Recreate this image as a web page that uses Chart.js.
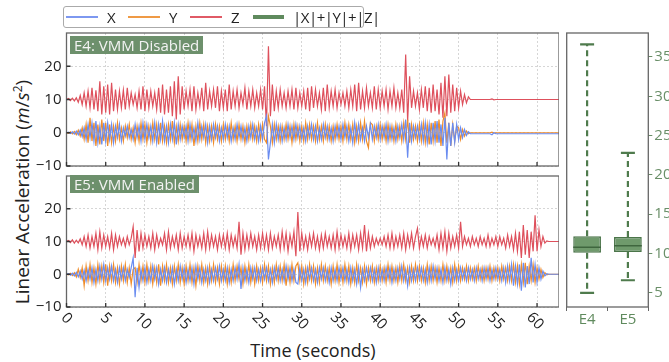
<!DOCTYPE html>
<html>
<head>
<meta charset="utf-8">
<script src="https://cdn.jsdelivr.net/npm/chart.js@4.4.0/dist/chart.umd.min.js"></script>
<style>
  body { margin: 0; width: 669px; height: 362px; overflow: hidden; background: #fff; position: relative; font-family: "Open Sans", sans-serif; color: #222; }
  .wrap { position: absolute; }
  #legend { position: absolute; left: 63px; top: 6px; width: 299px; height: 20px; border: 1px solid #aaa; border-radius: 3px; z-index: 5; background: #fff; font-size: 15px; }
  #legend span { position: absolute; }
  #legend .ln { height: 2px; top: 9px; }
  #legend .tx { top: -1px; line-height: 22px; }
  .tag { position: absolute; background: #6d906c; color: #f4f4f4; font-size: 15px; line-height: 18px; padding: 0 4px; z-index: 5; }
  #ytitle { position: absolute; left: 22px; top: 192px; transform: translate(-50%, -50%) rotate(-90deg); white-space: nowrap; font-size: 19px; }
  #xtitle { position: absolute; left: 313px; top: 350px; transform: translate(-50%, -50%); white-space: nowrap; font-size: 18px; }
</style>
</head>
<body>
<div id="legend">
  <span class="ln" style="left:2px;width:32px;background:#7d98f0"></span><span class="tx" style="left:43px">X</span>
  <span class="ln" style="left:64px;width:32px;background:#ef9a45"></span><span class="tx" style="left:105px">Y</span>
  <span class="ln" style="left:126px;width:32px;background:#e05a66"></span><span class="tx" style="left:167px">Z</span>
  <span class="ln" style="left:189px;width:31px;height:4px;top:8px;background:#5f8a5d"></span><span class="tx" style="left:229px;letter-spacing:-0.5px">|X|+|Y|+|Z|</span>
</div>
<div class="tag" style="left:70px;top:36px">E4: VMM Disabled</div>
<div class="tag" style="left:70px;top:175px">E5: VMM Enabled</div>
<div id="ytitle">Linear Acceleration (<i>m</i>/<i>s</i><sup style="font-size:12px">2</sup>)</div>
<div id="xtitle">Time (seconds)</div>

<div class="wrap" style="left:0;top:0;width:559px;height:180px"><canvas id="top"></canvas></div>
<div class="wrap" style="left:0;top:162px;width:559px;height:200px"><canvas id="bottom"></canvas></div>
<div class="wrap" style="left:560px;top:0;width:109px;height:362px"><canvas id="box"></canvas></div>

<script>
// samples every 0.25 s, 0 .. 63 s
const dt = 0.25;

// E4: VMM Disabled
const e4X = [
  0, 0.2, -0.2, 0.3, -0.4, 0.5, -0.6, 0.8, -1.2, 1.5, -2, 2.5, -1.5, 3, -2.5, 3.5, -3, 2, -3.5, 3,
  -2.5, 3, -2, 2.5, -3, 2, -1.5, 2.5, -2.5, 1.5, -1, 2, -1.5, 1, -2, 2.5, -1.5, 2, -2.5, 3,
  -2, 2.5, -1.5, 2, -2.5, 3, -3, 2.5, -2, 3.5, -2.5, 2, -3, 2.5, -2, 3, -3.5, 2.5, -2, 2,
  -1.5, 2, -2.5, 2.5, -2, 1.5, -2.5, 3, -2, 2, -1.5, 2.5, -3, 2, -2, 2.5, -1.5, 2, -2.5, 1.5,
  -2, 2.5, -1.5, 2, -2.5, 1.5, -2, 2.5, -1.5, 2, -2, 1.5, -2.5, 2, -1.5, 2.5, -2, 1.5, -2.5, 2,
  -2, 3, 5, -8, -3, 2.5, -3, 2.5, -2, 2, -2.5, 1.5, -2, 2.5, -1.5, 2, -2, 2.5, -1.5, 2,
  -2, 1.5, -2.5, 2, -1.5, 2.5, -2, 2, -2.5, 1.5, -2, 2.5, -1.5, 2, -2, 1.5, -2.5, 2, -1.5, 2,
  -2, 2.5, -1.5, 2, -2.5, 1.5, -3, 3, -2, 2.5, -2, 1.5, -2.5, 2, -1.5, 2.5, -2, 2, -1.5, 2.5,
  -2, 2, -1.5, 2.5, -2.5, 2, -2, 1.5, -2.5, 2, -1.5, 2.5, -2, 4, -7.5, 3, -2.5, 2, -1.5, 2,
  -2, 2.5, -2.5, 3, -3, 2.5, -3.5, 3, -2.5, 3.5, -3, 2.5, -4, 4.5, -8, 3, -4, 3, -3, 2.5,
  -2, 1.5, -1.5, 1, -0.8, 0.3, -0.3, -0.3, -0.3, -0.3, -0.3, -0.3, -0.3, -0.3, -0.3, -0.3, -0.3, -0.6, 0, -0.3,
  -0.3, -0.3, -0.3, -0.3, -0.3, -0.3, -0.3, -0.3, -0.3, -0.3, -0.3, -0.3, -0.3, -0.3, -0.3, -0.3, -0.3, -0.3, -0.3, -0.3,
  -0.3, -0.3, -0.3, -0.3, -0.3, -0.3, -0.3, -0.3, -0.3, -0.3, -0.3, -0.3, -0.3
];
const e4Y = [
  0, -0.2, 0.3, -0.3, 0.4, -0.6, 0.8, -1, 1.5, -2, 2.5, -3, 4.5, -2.5, 3, -4, 2.5, -3.5, 4, -2.5,
  3, -4, 2.5, -3, 2, -2.5, 3, -2, 1.5, -2.5, 2, -1.5, 2.5, -2, 1.5, -3, 2, -2.5, 3, -2,
  2.5, -3, 2, -2.5, 3, -2, 2.5, -3.5, 3, -2.5, 2, -3, 2.5, -2, 3.5, -3, 2, -2.5, 2.5, -2,
  2, -2.5, 3, -2, 2.5, -4, 2, -2.5, 3, -2, 2.5, -3, 2, -2.5, 2, -3, 2.5, -2, 2, -2.5,
  2.5, -2, 2, -2.5, 3, -2, 2, -2.5, 2.5, -2, 2, -3, 2, -2, 2.5, -2, 2, -2.5, 2.5, -2,
  2.5, -2, -3, 5, 2, -3, 2.5, -2, 2, -2.5, 2, -2, 2.5, -2, 2, -3, 2.5, -2, 2, -2.5,
  2, -2.5, 3, -2, 2.5, -2, 2, -2.5, 3, -2, 2, -2.5, 2.5, -2, 2, -2.5, 2, -2, 2.5, -2,
  2, -2.5, 3, -2, 2.5, -2, 2.5, -3, 2, -2.5, 3, -2, 3.5, -2.5, -4.5, 3, 2.5, -2.5, 2, -2,
  2.5, -2, 2, -2.5, 2.5, -2, 2, -2.5, 2.5, -2, 2, -2.5, 3, -2, 4, -3, 2.5, -2, 2, -2.5,
  2.5, -2.5, 3, -3, 2.5, -3.5, 3, -2.5, 3.5, -3, 4, -4, 3.5, 6, -3, 3, -4, 2.5, -2.5, 2,
  1.5, -2, 1, -1, 0.5, -0.3, 0, 0, 0, 0, 0, 0, 0, 0, 0, 0, 0, 0.2, -0.1, 0,
  0, 0, 0, 0, 0, 0, 0, 0, 0, 0, 0, 0, 0, 0, 0, 0, 0, 0, 0, 0,
  0, 0, 0, 0, 0, 0, 0, 0, 0, 0, 0, 0, 0
];
const e4Z = [
  10, 10.3, 9.7, 10.4, 9.6, 10.5, 9.2, 11.2, 8.5, 12, 8, 12.5, 7.5, 13.5, 7, 12.8, 6.5, 15.5, 5.5, 14,
  6, 14.5, 5.5, 15, 6.5, 13, 7, 12.5, 7.5, 12.8, 7, 13.5, 8, 12, 8.5, 11.5, 7.5, 12.5, 7, 14,
  6.5, 13, 7.5, 12.5, 8, 12, 7, 13.5, 6, 14.5, 5.5, 13, 6, 14, 5, 15.5, 4, 17, 5.5, 14,
  7, 12.5, 8, 13, 6.5, 14, 7, 12, 8, 13.5, 6.5, 15, 7, 12.5, 8, 13, 7.5, 14, 6.5, 12.5,
  7.5, 13, 6.5, 14.5, 7, 12.5, 8, 13, 7.5, 12, 8.5, 13.5, 7, 12.5, 8, 13, 7.5, 12, 8, 13,
  7, 14, 2, 26, 5, 14.5, 6.5, 12.5, 7.5, 13, 8, 12, 7.5, 12.5, 8, 13, 7, 13.5, 7.5, 12,
  8, 12.5, 7, 13.5, 6.5, 14, 7.5, 13, 8, 12, 7, 13.5, 6.5, 14.5, 7.5, 12.5, 8, 13, 7.5, 12,
  8.5, 12, 8, 12.5, 7.5, 13, 8, 14.5, 6.5, 15, 7, 12.5, 7.5, 13.5, 8, 12, 7.5, 14, 7, 13,
  7.5, 12.5, 8, 13, 7, 12.5, 8, 13.5, 7.5, 12, 7.5, 13, 6, 23.5, 3.5, 17, 7.5, 12.5, 8, 12,
  7, 13, 7.5, 14, 6.5, 13.5, 6, 14.5, 6.5, 13, 5.5, 15, 4.5, 17, 5, 17.5, 6, 14.5, 6.5, 13.5,
  7.5, 12.5, 8.5, 11.5, 9, 10.8, 10, 10, 10, 10, 10, 10, 10, 10, 10, 10, 10, 10.2, 9.9, 10,
  10, 10, 10, 10, 10, 10, 10, 10, 10, 10, 10, 10, 10, 10, 10, 10, 10, 10, 10, 10,
  10, 10, 10, 10, 10, 10, 10, 10, 10, 10, 10, 10, 10
];

// E5: VMM Enabled
const e5X = [
  0, 0.2, -0.3, 0.3, -0.5, 0.6, -0.8, 1, -1.5, 1.2, -2, 1.5, -1.5, 2, -2.5, 1.5, -2, 2.5, -1.5, 3,
  -2, 2, -1.5, 2.5, -2, 1.5, -2.5, 2, -1.5, 2, -2, 1.5, -1, 2, 5, -7, 2, -4, 1.5, -2,
  2, -2.5, 1.5, -2, 2.5, -1.5, 2, -3, 1.5, -2, 2, -2.5, 1.5, -2, 2, -3, 1.5, -2, 2.5, -1.5,
  2, -2.5, 1.5, -2, 2, -3, 2.5, -1.5, 2, -2.5, 1.5, -2, 2, -2.5, 1.5, -2, 2, -1.5, 2.5, -2,
  1.5, -2, 2, -2.5, 1.5, -2, 2, -1.5, 3, -4.5, 2, -2, 1.5, -2.5, 2, -1.5, 2, -2, 1.5, -2,
  2, -1.5, 2, -2, 1.5, -2.5, 2, -1.5, 2, -2, 1.5, -2, 2.5, -1.5, 2, -2, 1.5, -2.5, -3, 2,
  -2, 1.5, -2.5, 2, -1.5, 2, -2, 1.5, -2.5, 2, -1.5, 2, -2, 1.5, -2.5, 2, -2, 1.5, -2, 2,
  -1.5, 2, -2, 1.5, -2.5, 2, -2, 1.5, -3, 2, -4, 1.5, -2, 2, -1.5, 2, -2, 1.5, -2.5, 2,
  -2, 1.5, -2, 2, -1.5, 2, -2.5, 1.5, -2, 2, -1.5, 2.5, -2, 1.5, -3.5, 2, -2, 1.5, -2, 2,
  -1.5, 2, -2, 1.5, -2.5, 2, -2, 2.5, -1.5, 2, -2, 1.5, -2.5, 2, -2, 1.5, -3, 2, -2, 1.5,
  -2, 2, -1.5, 1.5, -2, 2, -1.5, 1.5, -2, 2, -1.5, 1.5, -2, 2, -1.5, 2, -2, 1.5, -1.5, 2,
  -1.5, 1.5, -2, 2, -2.5, 2.5, -2, 3, -3.5, 2.5, -3, 3, -5, 3.5, -4, 2.5, -3, 5, -2.5, 3,
  -2.5, 2, -1.5, 1, -0.5, 0.2, 0, 0, 0, 0, 0, 0, 0
];
const e5Y = [
  0, -0.2, 0.3, -0.4, 0.5, -0.8, 1.5, -1, 2, -3.5, 2.5, -2, 3, -2.5, 2, -3, 3, -2, 2.5, -2.5,
  3, -3.5, 2.5, -2, 3, -2.5, 2, -3, 2.5, -2, 3, -2.5, 2, -3, 1.5, 2, -2.5, 3, -2, 2.5,
  -2.5, 3, -2, 2.5, -3, 2, -2.5, 3, -3.5, 2.5, -2, 3, -2.5, 2, -3, 2.5, -2, 3, -2.5, 2,
  -3, 2.5, -2, 3, -2.5, 2, -3.5, 2.5, -2, 3, -2.5, 2, -3, 2.5, -2, 3, -2.5, 2, -3, 2.5,
  -2, 2.5, -3, 2, -2.5, 3, -2, 2.5, -1.5, 2, -3, 2.5, -2, 3, -2.5, 2, -3, 2.5, -2, 2,
  -2.5, 3, -2, 2.5, -3, 2, -2.5, 3, -2, 2.5, -2, 3, -3.5, 2, -2.5, 3, -2, 2.5, 3.5, -2,
  2.5, -3, 2, -2.5, 3, -2, 2.5, -3, 2, -2.5, 3, -2, 2.5, -2, 2, -3, 2.5, -2, 3, -2.5,
  2, -2.5, 3, -2, 2.5, -3, 2, -2.5, 3, -2, 2, -2.5, 2.5, -3, 2, -2, 2.5, -2.5, 2, -2,
  2.5, -2, 2, -2.5, 3, -2, 2.5, -2, 2, -2.5, 2.5, -2, 3, -2, 2, -2.5, 2.5, -2, 3, -2,
  2.5, -2, 2, -2.5, 3, -2, 2.5, -2, 2, -2.5, 2, -2, 3, -2, 2.5, -2, 2, -2.5, 3, -2,
  2.5, -2, 2, -1.5, 2.5, -2, 2, -1.5, 2, -2, 2.5, -1.5, 2, -2, 2, -1.5, 2.5, -2, 2, -1.5,
  2, -2, 2.5, -1.5, 2, -2, 2.5, -2, 3, -2.5, 2.5, -3, 3, -2.5, 3.5, -3, 2.5, -2, 3, -2.5,
  2, -1.5, 1.5, -1, 0.5, -0.2, 0, 0, 0, 0, 0, 0, 0
];
const e5Z = [
  10, 10.3, 9.7, 10.5, 9.5, 10.4, 9.6, 10.8, 9, 11.5, 8.5, 12, 8, 11.5, 8.5, 12.5, 7.5, 13, 8, 12,
  8.5, 11.5, 8, 12.5, 7.5, 12, 8.5, 11.5, 9, 11, 8.5, 11.5, 9, 11, 14.5, 5, 13.5, 7, 12.5, 8,
  12, 8.5, 11.5, 8, 12.5, 7.5, 12, 8.5, 11, 9, 12.5, 7.5, 13, 8, 11.5, 8.5, 12, 7.5, 12.5, 8,
  11.5, 8.5, 12, 8, 12.5, 7, 12, 8.5, 11.5, 8, 12.5, 7.5, 13, 8, 12, 8.5, 11.5, 7.5, 12, 8.5,
  12, 8, 12.5, 7.5, 12, 8.5, 11.5, 8, 16, 6, 12.5, 7.5, 12, 8, 12.5, 8.5, 11.5, 7.5, 12, 8,
  12.5, 8, 12, 7.5, 12.5, 8, 11.5, 8.5, 12, 7.5, 13, 8, 12.5, 7, 12, 8.5, 13, 5.5, 19, 7,
  12.5, 8, 11.5, 7.5, 12, 8.5, 12.5, 8, 11.5, 7.5, 12, 8, 12.5, 8.5, 11.5, 8, 12, 7.5, 13, 8,
  12, 8.5, 11.5, 8, 12.5, 7.5, 12, 8.5, 12, 7.5, 12.5, 8, 15, 7, 12.5, 8, 11.5, 8.5, 11, 9,
  11, 9, 11.5, 8.5, 12, 8, 12.5, 8, 11.5, 8.5, 12, 8, 12.5, 7.5, 12, 8.5, 12.5, 8, 11.5, 14,
  8, 11.5, 8.5, 12, 8, 11.5, 9, 11, 8.5, 12, 7.5, 12.5, 8, 13, 7, 12.5, 8, 11.5, 8.5, 12,
  8, 16, 8.5, 11.5, 9, 11, 8.5, 11.5, 9, 11, 8.5, 11.5, 9, 11, 8.5, 12, 8.5, 11, 9, 11.5,
  8.5, 11.5, 9, 11, 8, 12, 8.5, 11.5, 7.5, 12.5, 7, 13, 5, 15, 6, 13.5, 5, 13, 7, 18,
  7, 13.5, 8.5, 11.5, 9.5, 10.2, 10, 10, 10, 10, 10, 10, 10
];

const xTicks = [0, 5, 10, 15, 20, 25, 30, 35, 40, 45, 50, 55, 60];
const yTicks = [-10, 0, 10, 20];

// summary of |X|+|Y|+|Z| per experiment
const boxCats = ["E4", "E5"];
const boxMin = [5.0, 6.6];
const boxQ1 = [10.1, 10.2];
const boxMed = [10.8, 11.0];
const boxQ3 = [12.2, 12.1];
const boxMax = [36.6, 22.8];
const boxTicks = [5, 10, 15, 20, 25, 30, 35];

const FONT = "'Open Sans', sans-serif";
Chart.defaults.font.family = FONT;
Chart.defaults.font.size = 15;

const time = e4Z.map((_, i) => i * dt);
const pts = (arr) => arr.map((v, i) => ({ x: time[i], y: v }));
const useTicks = (vals) => (s) => { s.ticks = vals.map((v) => ({ value: v })); };

// frame round the plot plus small inward tick marks
function framePlugin(inner) {
  return {
    id: "frame",
    afterDraw(chart) {
      const { ctx, chartArea: a, scales } = chart;
      ctx.save();
      ctx.strokeStyle = "#666";
      ctx.lineWidth = 1.3;
      ctx.strokeRect(a.left, a.top, a.right - a.left, a.bottom - a.top);
      if (inner) {
        ctx.strokeStyle = "#333";
        ctx.beginPath();
        xTicks.forEach((v) => {
          const px = scales.x.getPixelForValue(v);
          ctx.moveTo(px, a.bottom);
          ctx.lineTo(px, a.bottom - 4);
        });
        yTicks.forEach((v) => {
          const py = scales.y.getPixelForValue(v);
          ctx.moveTo(a.left, py);
          ctx.lineTo(a.left + 4, py);
        });
        ctx.stroke();
      }
      ctx.restore();
    },
  };
}

// x labels turned 45 degrees clockwise
const slantLabels = {
  id: "slant",
  afterDraw(chart) {
    const { ctx, chartArea: a, scales } = chart;
    ctx.save();
    ctx.font = "15px " + FONT;
    ctx.fillStyle = "#222";
    ctx.textAlign = "center";
    ctx.textBaseline = "middle";
    xTicks.forEach((v) => {
      const t = String(v);
      const w = ctx.measureText(t).width;
      const px = scales.x.getPixelForValue(v);
      ctx.save();
      ctx.translate(px - (w - 9) * 0.25, a.bottom + 9 + w * 0.3);
      ctx.rotate(Math.PI / 4);
      ctx.fillText(t, 0, 0);
      ctx.restore();
    });
    ctx.restore();
  },
};

function panel(id, xs, ys, zs, pad, xHeight, extra) {
  const grid = { color: "#d6d6d6", drawTicks: false };
  return new Chart(document.getElementById(id), {
    type: "line",
    data: {
      datasets: [
        { label: "X", data: pts(xs), borderColor: "#6a8cf0", order: 0 },
        { label: "Y", data: pts(ys), borderColor: "#ef8c2a", order: 1 },
        { label: "Z", data: pts(zs), borderColor: "#de505c", order: 2 },
      ],
    },
    options: {
      animation: false,
      responsive: true,
      maintainAspectRatio: false,
      layout: { padding: pad },
      elements: { point: { radius: 0 }, line: { borderWidth: 1.2, tension: 0 } },
      plugins: { legend: { display: false }, tooltip: { enabled: false } },
      scales: {
        x: {
          type: "linear",
          min: 0,
          max: 62.8,
          afterBuildTicks: useTicks(xTicks),
          afterFit: (s) => { s.height = xHeight; },
          ticks: { display: false },
          grid: grid,
          border: { display: false, dash: [2, 2] },
        },
        y: {
          min: -10,
          max: 30,
          afterBuildTicks: useTicks(yTicks),
          afterFit: (s) => { s.width = 66.5; },
          ticks: { color: "#222", padding: 5, callback: (v) => String(v).replace("-", "\u2212") },
          grid: grid,
          border: { display: false, dash: [2, 2] },
        },
      },
    },
    plugins: [framePlugin(true)].concat(extra),
  });
}

panel("top", e4X, e4Y, e4Z, { top: 33, bottom: 8, left: 0, right: 0 }, 5, []);
panel("bottom", e5X, e5Y, e5Z, { top: 11, bottom: 0, left: 0, right: 0 }, 55, [slantLabels]);

// whiskers, caps and medians of the box plot
const boxParts = {
  id: "boxParts",
  beforeDatasetsDraw(chart) {
    const { ctx, scales } = chart;
    ctx.save();
    ctx.strokeStyle = "#4f7b4d";
    ctx.lineWidth = 2.2;
    boxCats.forEach((c, i) => {
      const px = scales.x.getPixelForValue(i);
      ctx.setLineDash([6, 4]);
      ctx.beginPath();
      ctx.moveTo(px, scales.y.getPixelForValue(boxQ3[i]));
      ctx.lineTo(px, scales.y.getPixelForValue(boxMax[i]));
      ctx.moveTo(px, scales.y.getPixelForValue(boxQ1[i]));
      ctx.lineTo(px, scales.y.getPixelForValue(boxMin[i]));
      ctx.stroke();
      ctx.setLineDash([]);
      ctx.beginPath();
      [boxMin[i], boxMax[i]].forEach((v) => {
        const py = scales.y.getPixelForValue(v);
        ctx.moveTo(px - 7, py);
        ctx.lineTo(px + 7, py);
      });
      ctx.stroke();
    });
    ctx.restore();
  },
  afterDatasetsDraw(chart) {
    const { ctx, scales } = chart;
    const bars = chart.getDatasetMeta(0).data;
    ctx.save();
    ctx.strokeStyle = "#3f663e";
    ctx.lineWidth = 1.5;
    ctx.beginPath();
    boxCats.forEach((c, i) => {
      const py = scales.y.getPixelForValue(boxMed[i]);
      ctx.moveTo(bars[i].x - bars[i].width / 2, py);
      ctx.lineTo(bars[i].x + bars[i].width / 2, py);
    });
    ctx.stroke();
    ctx.restore();
  },
};

new Chart(document.getElementById("box"), {
  type: "bar",
  data: {
    labels: boxCats,
    datasets: [{
      label: "|X|+|Y|+|Z|",
      data: boxQ1.map((q, i) => [q, boxQ3[i]]),
      backgroundColor: "#6f9a6c",
      borderColor: "#4b754a",
      borderWidth: 1.5,
      borderSkipped: false,
      barPercentage: 0.68,
      categoryPercentage: 1,
    }],
  },
  options: {
    animation: false,
    responsive: true,
    maintainAspectRatio: false,
    layout: { padding: { top: 33, left: 6.7, right: 0, bottom: 0 } },
    plugins: { legend: { display: false }, tooltip: { enabled: false } },
    scales: {
      x: {
        afterFit: (s) => { s.height = 55; },
        grid: { drawOnChartArea: false, tickLength: 4, color: "#666" },
        border: { display: false },
        ticks: { color: "#5f8a5d", padding: 0 },
      },
      y: {
        position: "right",
        min: 3.2,
        max: 38.05,
        afterBuildTicks: useTicks(boxTicks),
        afterFit: (s) => { s.width = 20.7; },
        grid: { drawOnChartArea: false, tickLength: 4, color: "#6a8f68" },
        border: { display: false },
        ticks: { color: "#6a8f68", padding: 2 },
      },
    },
  },
  plugins: [boxParts, framePlugin(false)],
});
</script>
</body>
</html>
